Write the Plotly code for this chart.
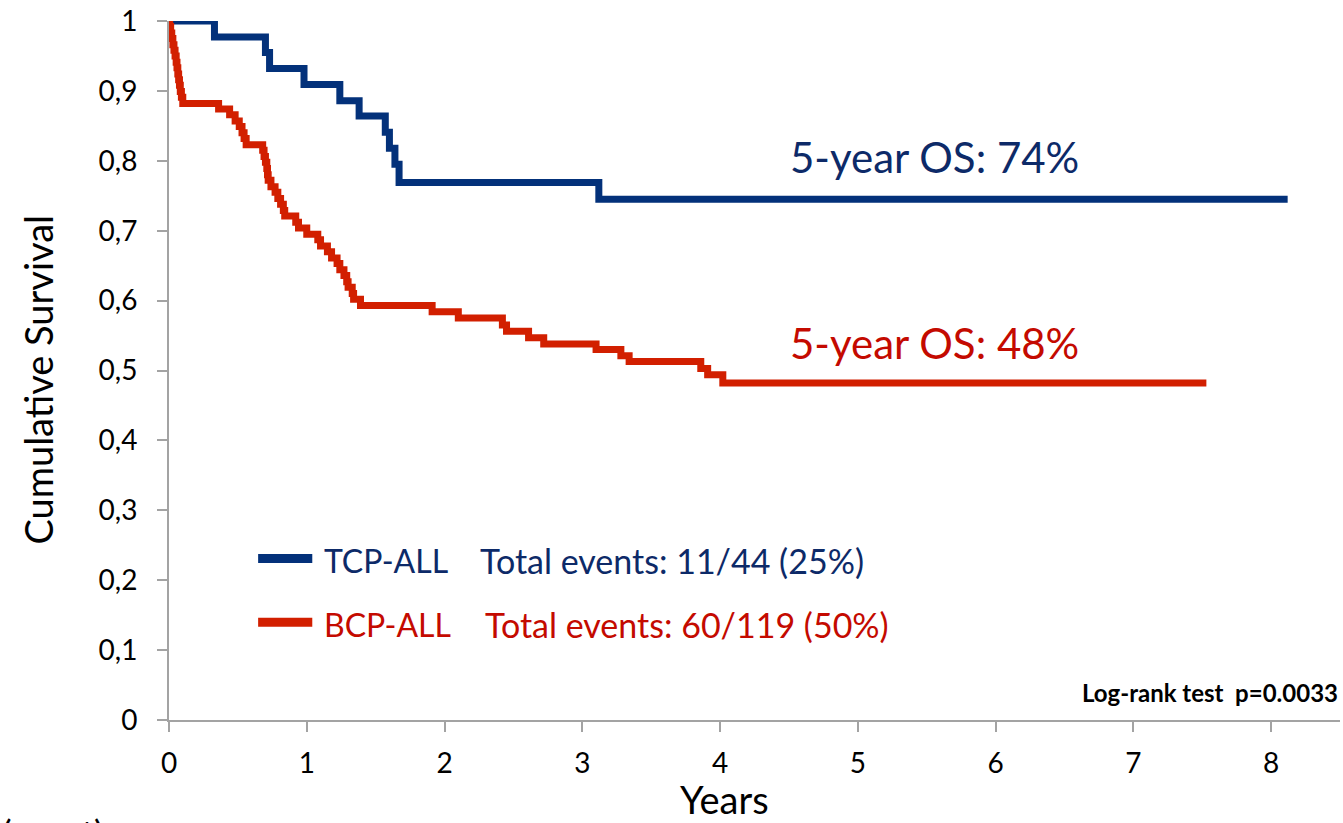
import plotly.graph_objects as go

# Kaplan-Meier overall survival, T-cell precursor ALL
tcp_years = [0, 0.33, 0.70, 0.73, 0.98, 1.24, 1.38, 1.57, 1.60, 1.64, 1.67, 3.12, 8.12]
tcp_surv = [1.0, 0.977, 0.955, 0.932, 0.909, 0.886, 0.864, 0.841, 0.818, 0.795, 0.769, 0.745, 0.745]

# Kaplan-Meier overall survival, B-cell precursor ALL
bcp_years = [0, 0.005, 0.012, 0.02, 0.028, 0.036, 0.044, 0.052, 0.058, 0.064, 0.07, 0.076,
             0.082, 0.09, 0.10,
             0.36, 0.44, 0.48, 0.51, 0.53, 0.545, 0.56,
             0.68, 0.69, 0.70, 0.71, 0.715, 0.72, 0.74, 0.77, 0.79, 0.81, 0.83, 0.84,
             0.92, 0.94, 1.00, 1.08, 1.10, 1.15, 1.18, 1.22, 1.24, 1.27, 1.29, 1.30,
             1.33, 1.34, 1.39,
             1.91, 2.10, 2.42, 2.45, 2.61, 2.72, 3.10, 3.28, 3.34, 3.86, 3.91, 4.02, 7.53]
bcp_surv = [1.0, 0.992, 0.983, 0.975, 0.966, 0.958, 0.950, 0.941, 0.933, 0.924, 0.916, 0.908,
            0.899, 0.891, 0.882,
            0.874, 0.866, 0.857, 0.849, 0.840, 0.832, 0.823,
            0.815, 0.806, 0.798, 0.789, 0.780, 0.772, 0.763, 0.755, 0.746, 0.738, 0.729, 0.721,
            0.712, 0.704, 0.695, 0.687, 0.678, 0.670, 0.661, 0.653, 0.644, 0.636, 0.627, 0.619,
            0.610, 0.602, 0.593,
            0.584, 0.575, 0.565, 0.556, 0.547, 0.538, 0.530, 0.521, 0.513, 0.503, 0.494, 0.482, 0.482]

x_ticks = [0, 1, 2, 3, 4, 5, 6, 7, 8]
y_ticks = [0, 0.1, 0.2, 0.3, 0.4, 0.5, 0.6, 0.7, 0.8, 0.9, 1.0]
y_tick_text = ["0", "0,1", "0,2", "0,3", "0,4", "0,5", "0,6", "0,7", "0,8", "0,9", "1"]

BLUE_LINE = "#03317a"
RED_LINE = "#d21f00"
BLUE_TEXT = "#0d2a68"
RED_TEXT = "#c40a00"
AXIS_GRAY = "#a3a3a3"
FONT = "Lato"

fig = go.Figure()
fig.add_trace(go.Scatter(x=tcp_years, y=tcp_surv, mode="lines", line_shape="hv",
                         line=dict(color=BLUE_LINE, width=7), name="TCP-ALL", showlegend=False))
fig.add_trace(go.Scatter(x=bcp_years, y=bcp_surv, mode="lines", line_shape="hv",
                         line=dict(color=RED_LINE, width=7), name="BCP-ALL", showlegend=False))

# Legend keys drawn as short thick strokes
fig.add_shape(type="line", xref="x", yref="y", x0=0.647, x1=1.04, y0=0.231, y1=0.231,
              line=dict(color=BLUE_LINE, width=9))
fig.add_shape(type="line", xref="x", yref="y", x0=0.647, x1=1.04, y0=0.140, y1=0.140,
              line=dict(color=RED_LINE, width=9))

ann = []
def label(text, x, y, color, size, xanchor="left", yanchor="middle", bold=False,
          xref="x", yref="y", angle=0):
    ann.append(dict(text=f"<b>{text}</b>" if bold else text, x=x, y=y, xref=xref, yref=yref,
                    xanchor=xanchor, yanchor=yanchor, showarrow=False, textangle=angle,
                    font=dict(family=FONT, size=size, color=color)))

label("5-year OS: 74%", 5.56, 0.806, BLUE_TEXT, 42, xanchor="center")
label("5-year OS: 48%", 5.56, 0.540, RED_TEXT, 42, xanchor="center")
label("TCP-ALL", 1.11, 0.228, BLUE_TEXT, 32)
label("Total events: 11/44 (25%)", 2.245, 0.228, BLUE_TEXT, 34)
label("BCP-ALL", 1.11, 0.137, RED_TEXT, 32)
label("Total events: 60/119 (50%)", 2.28, 0.137, RED_TEXT, 34)
label("Log-rank test\u00a0\u00a0p=0.0033", 1.0, 0.04, "#000000", 24, xanchor="right",
      bold=True, xref="paper")
label("Cumulative Survival", -0.1119, 0.487, "#000000", 38, xanchor="center",
      xref="paper", yref="paper", angle=-90)
label("Years", 0.474, -0.113, "#000000", 38, xanchor="center", xref="paper", yref="paper")
label("(mont)", -0.1443, -0.128, "#000000", 36, yanchor="top", xref="paper", yref="paper")

fig.update_layout(
    width=1343, height=823,
    margin=dict(l=169, r=3, t=18, b=103),
    paper_bgcolor="white", plot_bgcolor="white",
    font=dict(family=FONT, size=28, color="#000000"),
    annotations=ann,
)
fig.update_xaxes(range=[0, 8.5], tickvals=x_ticks, showgrid=False, zeroline=False,
                 showline=True, linecolor=AXIS_GRAY, linewidth=2,
                 ticks="outside", ticklen=10, tickwidth=2, tickcolor=AXIS_GRAY,
                 ticklabelstandoff=7, ticklabeloverflow="allow", tickfont=dict(family=FONT, size=28))
fig.update_yaxes(range=[0, 1], tickvals=y_ticks, ticktext=y_tick_text, showgrid=False,
                 zeroline=False, showline=True, linecolor=AXIS_GRAY, linewidth=2,
                 ticks="outside", ticklen=10, tickwidth=2, tickcolor=AXIS_GRAY,
                 ticklabelstandoff=14, ticklabeloverflow="allow", tickfont=dict(family=FONT, size=28))

fig.write_html("out.html")
